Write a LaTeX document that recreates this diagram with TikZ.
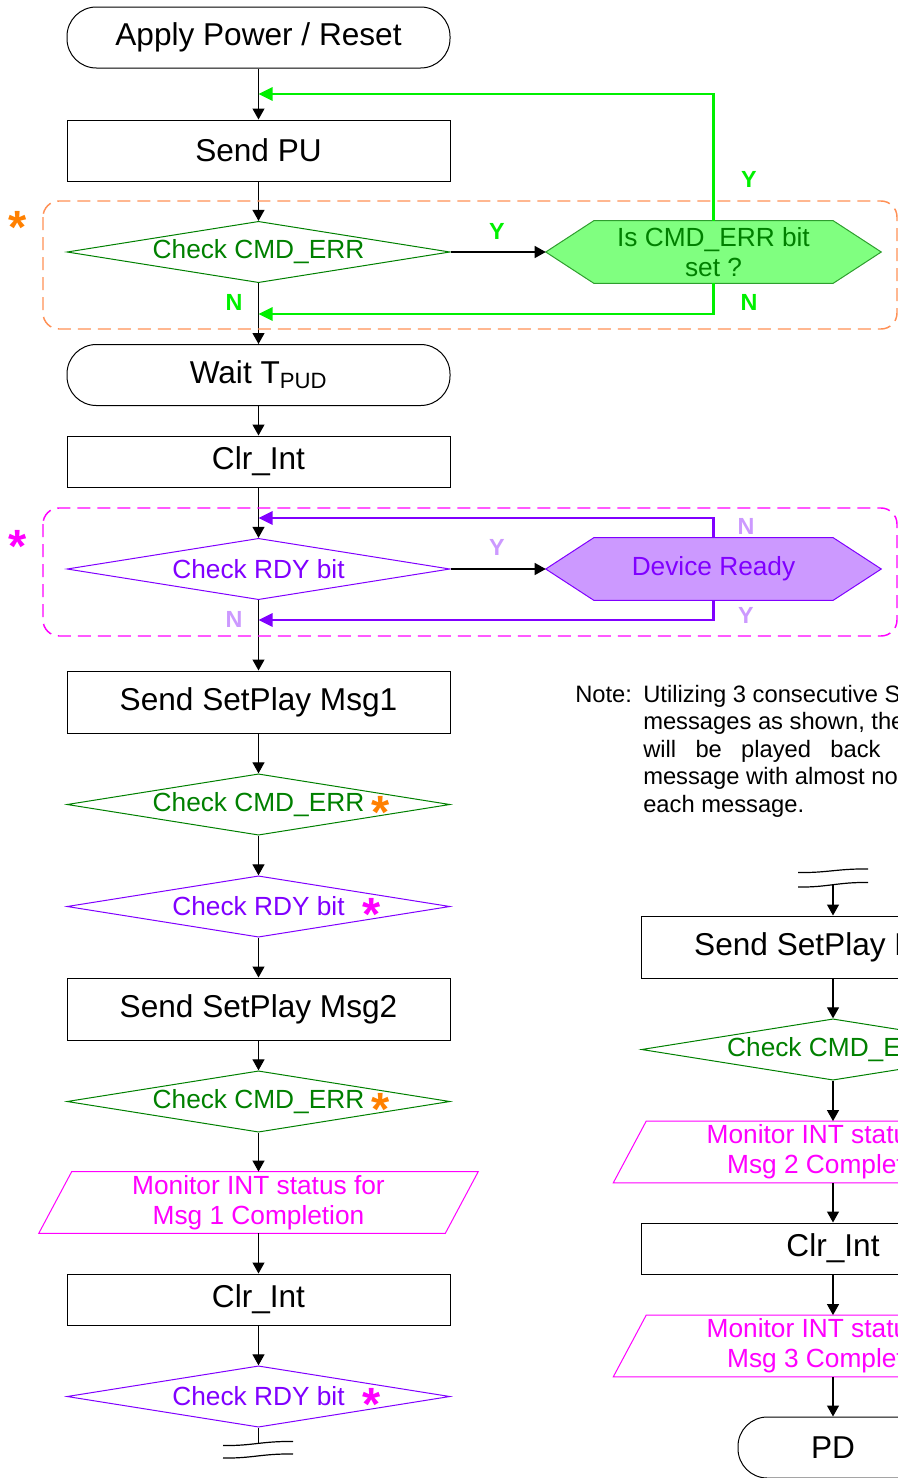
\documentclass[tikz,border=0pt]{standalone}
\usepackage{fontspec}
\setmainfont{Liberation Sans}
\usepackage{tikz}
\usetikzlibrary{
  calc,
  positioning,
  arrows.meta,
  shapes.geometric,
  backgrounds
}
\definecolor{cmdgreen}{HTML}{008000}
\definecolor{loopgreen}{HTML}{00F000}
\definecolor{hexgreen}{HTML}{80FF80}
\definecolor{edgegreen}{HTML}{2E9E2E}
\definecolor{dashorange}{HTML}{FF9055}
\definecolor{starorange}{HTML}{FF8000}
\definecolor{rdyviolet}{HTML}{8000FF}
\definecolor{hexviolet}{HTML}{CC99FF}
\definecolor{intmagenta}{HTML}{FF00FF}

\newcommand{\boxfont}{\fontsize{23.7pt}{28pt}\selectfont}
\newcommand{\chkfont}{\fontsize{19.7pt}{22.5pt}\selectfont}
\newcommand{\notefont}{\fontsize{17.8pt}{20.6pt}\selectfont}
\newcommand{\ynfont}{\fontsize{17.5pt}{20pt}\selectfont\bfseries}
\newcommand{\starfont}{\fontsize{35pt}{35pt}\selectfont\bfseries}

\tikzset{
  proc/.style={draw, line width=0.75pt, rectangle, minimum width=287.25pt,
    minimum height=45.75pt, inner sep=0pt, font=\boxfont},
  term/.style={proc, rounded corners=22pt},
  chk/.style={draw, line width=0.75pt, diamond, aspect=6.18,
    minimum width=287.25pt, minimum height=46pt, inner sep=0pt, font=\chkfont},
  hexbox/.style={rectangle, minimum width=251.25pt, minimum height=46.5pt,
    inner sep=0pt, align=center, font=\chkfont},
  iobox/.style={rectangle, minimum width=329.25pt, minimum height=46pt,
    inner sep=0pt, align=center, font=\chkfont, text=intmagenta},
  flow/.style={-{Triangle[length=8.25pt,width=9pt]}, line width=0.9pt},
  loopline/.style={-{Triangle[length=10.5pt,width=10pt]}, line width=1.6pt},
  yn/.style={font=\ynfont, inner sep=0pt},
  errstar/.style={font=\starfont, inner sep=0pt, anchor=base},
  groupbox/.style={dash pattern=on 9.75pt off 5.25pt, line width=1.1pt,
    rounded corners=12pt},
  brk/.style={line width=0.9pt}
}

\begin{document}
\begin{tikzpicture}[x=0.75pt,y=-0.75pt]
  \useasboundingbox (0,0) rectangle (898,1478);

  % left column
  \node (power)   [term] at (258.5,37.5)  {Apply Power / Reset};
  \node (sendpu)  [proc] at (258.5,150.5) {Send PU};
  \node (chkerr)  [chk, text=cmdgreen, draw=cmdgreen] at (258.5,252) {Check CMD\_ERR};
  \node (iserr)   [hexbox, text=cmdgreen] at (713.5,252) {Is CMD\_ERR bit\\set ?};
  \node (waitpud) [term] at (258.5,375) {Wait T\textsubscript{PUD}};
  \node (clrint)  [proc, minimum height=38.25pt] at (258.5,461.5) {Clr\_Int};
  \node (chkrdy)  [chk, text=rdyviolet, draw=rdyviolet] at (258.5,569) {Check RDY bit};
  \node (devrdy)  [hexbox, text=rdyviolet] at (713.5,569) {Device Ready};
  \node (msg1)    [proc, minimum height=46.5pt] at (258.5,702) {Send SetPlay Msg1};
  \node (chkerrA) [chk, text=cmdgreen, draw=cmdgreen] at (258.5,804.5) {Check CMD\_ERR};
  \node (chkrdyA) [chk, text=rdyviolet, draw=rdyviolet] at (258.5,906.5) {Check RDY bit};
  \node (msg2)    [proc, minimum height=46.5pt] at (258.5,1009) {Send SetPlay Msg2};
  \node (chkerrB) [chk, text=cmdgreen, draw=cmdgreen] at (258.5,1101.5) {Check CMD\_ERR};
  \node (intA)    [iobox] at (258.5,1202.5) {Monitor INT status for\\Msg 1 Completion};
  \node (clrintA) [proc, minimum height=38.25pt] at (258.5,1299.5) {Clr\_Int};
  \node (chkrdyB) [chk, text=rdyviolet, draw=rdyviolet] at (258.5,1396.5) {Check RDY bit};

  % right column
  \node (msg3)    [proc, minimum width=288pt, minimum height=46.5pt] at (833,947) {Send SetPlay Msg3};
  \node (chkerrC) [chk, text=cmdgreen, draw=cmdgreen] at (833,1049.5) {Check CMD\_ERR};
  \node (intB)    [iobox] at (833,1152) {Monitor INT status for\\Msg 2 Completion};
  \node (clrintB) [proc, minimum width=288pt, minimum height=38.25pt] at (833,1248.5) {Clr\_Int};
  \node (intC)    [iobox] at (833,1346) {Monitor INT status for\\Msg 3 Completion};
  \node (pd)      [term, minimum width=142.5pt] at (833,1447.5) {PD};

  % hexagons and parallelograms
  \begin{scope}[on background layer]
    \filldraw[fill=hexgreen, draw=edgegreen, line width=0.75pt]
      (iserr.west) -- ([xshift=36pt]iserr.north west) -- ([xshift=-36pt]iserr.north east)
      -- (iserr.east) -- ([xshift=-36pt]iserr.south east) -- ([xshift=36pt]iserr.south west) -- cycle;
    \filldraw[fill=hexviolet, draw=rdyviolet, line width=0.75pt]
      (devrdy.west) -- ([xshift=36pt]devrdy.north west) -- ([xshift=-36pt]devrdy.north east)
      -- (devrdy.east) -- ([xshift=-36pt]devrdy.south east) -- ([xshift=36pt]devrdy.south west) -- cycle;
  \end{scope}
  \foreach \io in {intA,intB,intC}
    \draw[intmagenta, line width=0.75pt] (\io.south west) -- ([xshift=24.75pt]\io.north west)
      -- (\io.north east) -- ([xshift=-24.75pt]\io.south east) -- cycle;

  % main flow
  \draw[flow] (power) -- (sendpu);
  \draw[flow] (sendpu) -- (chkerr);
  \draw[flow] (chkerr) -- (iserr);
  \draw[flow] (chkerr) -- (waitpud);
  \draw[flow] (waitpud) -- (clrint);
  \draw[flow] (clrint) -- (chkrdy);
  \draw[flow] (chkrdy) -- (devrdy);
  \draw[flow] (chkrdy) -- (msg1);
  \draw[flow] (msg1) -- (chkerrA);
  \draw[flow] (chkerrA) -- (chkrdyA);
  \draw[flow] (chkrdyA) -- (msg2);
  \draw[flow] (msg2) -- (chkerrB);
  \draw[flow] (chkerrB) -- (intA);
  \draw[flow] (intA) -- (clrintA);
  \draw[flow] (clrintA) -- (chkrdyB);
  \coordinate (brkA) at (258.5,1443);
  \draw[brk] (chkrdyB) -- (brkA);

  \coordinate (brkB) at (833,884);
  \draw[flow] (brkB) -- (msg3);
  \draw[flow] (msg3) -- (chkerrC);
  \draw[flow] (chkerrC) -- (intB);
  \draw[flow] (intB) -- (clrintB);
  \draw[flow] (clrintB) -- (intC);
  \draw[flow] (intC) -- (pd);

  % break marks
  \draw[brk] (223,1445.5) .. controls (252,1446) and (262,1441) .. (293,1441.5);
  \draw[brk] (223,1458) .. controls (252,1458.5) and (262,1453.5) .. (293,1454);
  \draw[brk] (798,872.5) .. controls (827,873) and (838,868.5) .. (868,869);
  \draw[brk] (798,887) .. controls (827,887.5) and (838,882) .. (868,882.5);

  % loops back
  \coordinate (retY)  at (258.5,94);
  \coordinate (retN)  at (258.5,314);
  \coordinate (retRN) at (258.5,518);
  \coordinate (retRY) at (258.5,620);
  \draw[loopline, loopgreen] (iserr.north) |- (retY);
  \draw[loopline, loopgreen] (iserr.south) |- (retN);
  \draw[loopline, rdyviolet] (devrdy.north) |- (retRN);
  \draw[loopline, rdyviolet] (devrdy.south) |- (retRY);

  \node (lblA) [yn, text=loopgreen] at (749,179) {Y};
  \node (lblB) [yn, text=loopgreen] at (497,231) {Y};
  \node (lblC) [yn, text=loopgreen] at (234,302) {N};
  \node (lblD) [yn, text=loopgreen] at (749,302) {N};
  \node (lblE) [yn, text=hexviolet] at (746,526) {N};
  \node (lblF) [yn, text=hexviolet] at (497,547) {Y};
  \node (lblG) [yn, text=hexviolet] at (746,615) {Y};
  \node (lblH) [yn, text=hexviolet] at (234,619) {N};

  % grouped checks
  \draw[groupbox, dashorange] (43,201) rectangle (897,329);
  \draw[groupbox, intmagenta] (43,508) rectangle (897,636);
  \node (starA) [errstar, text=starorange] at (18,243) {*};
  \node (starB) [errstar, text=intmagenta] at (18,562) {*};
  \node (starC) [errstar, text=starorange] at (380.5,828) {*};
  \node (starD) [errstar, text=intmagenta] at (372,930) {*};
  \node (starE) [errstar, text=starorange] at (380.5,1125) {*};
  \node (starF) [errstar, text=intmagenta] at (372,1420) {*};

  % note
  \node (noteA) [anchor=base west, inner sep=0pt, font=\notefont] at (575,702) {Note:};
  \node (noteB) [anchor=base west, inner sep=0pt, font=\notefont] at (643,702) {Utilizing 3 consecutive SetPlay};
  \node (noteC) [anchor=base west, inner sep=0pt, font=\notefont] at (643,729.5) {messages as shown, the messages};
  \node (noteD) [anchor=base west, inner sep=0pt, font=\notefont] at (643,757)
    {\makebox[286.5pt][s]{will be played back sequentially}};
  \node (noteE) [anchor=base west, inner sep=0pt, font=\notefont] at (643,784.5) {message with almost no delay between};
  \node (noteF) [anchor=base west, inner sep=0pt, font=\notefont] at (643,812) {each message.};
\end{tikzpicture}
\end{document}
